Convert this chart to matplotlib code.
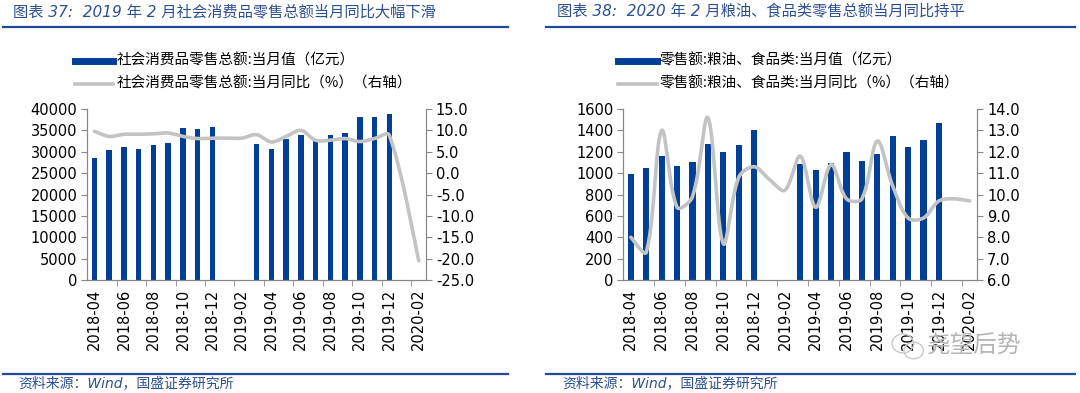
import numpy as np
import matplotlib
matplotlib.use('Agg')
import matplotlib.pyplot as plt
from matplotlib.patches import Ellipse

plt.rcParams['font.family'] = ['DejaVu Sans', 'Noto Sans CJK SC']

# months on the x axis, 2018-04 .. 2020-02
months = ['2018-04', '2018-05', '2018-06', '2018-07', '2018-08', '2018-09', '2018-10',
          '2018-11', '2018-12', '2019-01', '2019-02', '2019-03', '2019-04', '2019-05',
          '2019-06', '2019-07', '2019-08', '2019-09', '2019-10', '2019-11', '2019-12',
          '2020-01', '2020-02']
nan = np.nan

# chart 37: total retail sales of consumer goods
retail_value = [28542, 30359, 31032, 30734, 31542, 32005, 35534, 35260, 35893, nan, nan,
                31726, 30586, 32956, 33878, 33073, 33896, 34495, 38104, 38094, 38777, nan, nan]
retail_yoy = [9.8, 8.6, 9.1, 9.1, 9.2, 9.4, 8.6, 8.1, 8.2, 8.2, 8.2,
              9.0, 7.3, 8.6, 10.0, 7.7, 7.7, 8.1, 7.4, 8.1, 8.9, nan, -20.5]

# chart 38: grain, oil and food retail sales
food_value = [994, 1044, 1156, 1066, 1100, 1275, 1194, 1259, 1406, nan, nan,
              1084, 1025, 1097, 1200, 1112, 1178, 1347, 1247, 1309, 1469, nan, nan]
food_yoy = [8.0, 7.3, 13.0, 9.4, 9.9, 13.6, 7.7, 10.8, 11.3, 10.7, 10.2,
            11.8, 9.4, 11.4, 9.8, 9.8, 12.5, 10.4, 8.9, 8.9, 9.7, 9.8, 9.7]

titles = ['图表 37:  2019 年 2 月社会消费品零售总额当月同比大幅下滑',
          '图表 38:  2020 年 2 月粮油、食品类零售总额当月同比持平']
legend_bar = ['社会消费品零售总额:当月值（亿元）', '零售额:粮油、食品类:当月值（亿元）']
legend_line = ['社会消费品零售总额:当月同比（%）（右轴）', '零售额:粮油、食品类:当月同比（%）（右轴）']
source = '资料来源：Wind，国盛证券研究所'

BLUE = '#003F98'
GREY = '#C3C3C3'
TXT = '#2D4F92'


def smooth(x, y, kx, ky, n=30):
    # bezier through the points, control arms scaled by on-screen segment length
    x = np.asarray(x, float)
    y = np.asarray(y, float)
    N = len(x)
    d = np.hypot(np.diff(x) * kx, np.diff(y) * ky)
    xs, ys = [], []
    for i in range(N - 1):
        i0, i3 = max(i - 1, 0), min(i + 2, N - 1)
        da = d[i - 1] if i > 0 else d[i]
        db = d[i + 1] if i + 2 < N else d[i]
        f1 = d[i] / (da + d[i]) * 2 / 3
        f2 = d[i] / (d[i] + db) * 2 / 3
        c1 = (x[i] + (x[i + 1] - x[i0]) * f1 / 2, y[i] + (y[i + 1] - y[i0]) * f1 / 2)
        c2 = (x[i + 1] - (x[i3] - x[i]) * f2 / 2, y[i + 1] - (y[i3] - y[i]) * f2 / 2)
        t = np.linspace(0, 1, n)
        for k, (a, b) in enumerate([(x[i], x[i + 1]), (y[i], y[i + 1])]):
            pts = [a, c1[k], c2[k], b]
            v = ((1 - t) ** 3 * pts[0] + 3 * (1 - t) ** 2 * t * pts[1]
                 + 3 * (1 - t) * t ** 2 * pts[2] + t ** 3 * pts[3])
            (xs if k == 0 else ys).extend(v)
    return xs, ys


fig = plt.figure(figsize=(10.8, 3.93), dpi=100)

panels = [
    dict(x0=0.0806, w=0.314, vals=retail_value, yoy=retail_yoy, ylim=(0, 40000), yt=range(0, 40001, 5000),
         rlim=(-25, 15), rt=np.arange(-25, 15.1, 5), bw=0.38, tx=0.012, rule=(0.003, 0.470), lgx=0.069),
    dict(x0=0.577, w=0.328, vals=food_value, yoy=food_yoy, ylim=(0, 1600), yt=range(0, 1601, 200),
         rlim=(6, 14), rt=np.arange(6, 14.1, 1), bw=0.40, tx=0.516, rule=(0.506, 0.995), lgx=0.572),
]

x = np.arange(len(months))
for k, p in enumerate(panels):
    ax = fig.add_axes([p['x0'], 0.2875, p['w'], 0.435])
    ax2 = ax.twinx()
    ax.bar(x, p['vals'], width=p['bw'], color=BLUE, zorder=2)
    yoy = np.array(p['yoy'])
    ok = ~np.isnan(yoy)
    kx = p['w'] * 1080 / len(months)
    ky = 0.435 * 393 / (p['rlim'][1] - p['rlim'][0])
    sx, sy = smooth(x[ok], yoy[ok], kx, ky)
    ax2.plot(sx, sy, color=GREY, lw=2.6, solid_capstyle='round')

    ax.set_xlim(-0.5, len(months) - 0.5)
    ax.set_ylim(*p['ylim'])
    ax.set_yticks(list(p['yt']))
    ax2.set_ylim(*p['rlim'])
    ax2.set_yticks(p['rt'])
    ax2.set_yticklabels([f'{v:.1f}' for v in p['rt']])
    ax.set_xticks(x[::2])
    ax.set_xticklabels(months[::2], rotation=90)
    ax.set_xticks(np.arange(1.5, len(months), 2), minor=True)
    ax.tick_params(axis='x', which='major', length=0, pad=6, labelsize=10.5)
    ax.tick_params(axis='x', which='minor', length=4, color='#888888', direction='out')
    for a in (ax, ax2):
        a.tick_params(axis='y', length=4, color='#888888', labelsize=10.5, pad=3)
        for s in a.spines.values():
            s.set_color('#888888')
        a.spines['top'].set_visible(False)

    fig.text(p['tx'], 0.97, titles[k], color=TXT, fontsize=11, style='italic', va='center')
    fig.add_artist(plt.Line2D(p['rule'], [0.931, 0.931], color='#1F4B9A', lw=1.6))
    fig.add_artist(plt.Line2D(p['rule'], [0.048, 0.048], color='#1F4B9A', lw=1.6))
    fig.text(p['tx'] + 0.005, 0.025, source, color=TXT, fontsize=10, style='italic', va='center')

    fig.add_artist(plt.Line2D([p['lgx'], p['lgx'] + 0.036], [0.846, 0.846], color=BLUE, lw=5))
    fig.add_artist(plt.Line2D([p['lgx'], p['lgx'] + 0.036], [0.787, 0.787], color=GREY, lw=2.6))
    fig.text(p['lgx'] + 0.039, 0.846, legend_bar[k], fontsize=10.5, va='center',
             family=['Noto Sans CJK SC', 'DejaVu Sans'])
    fig.text(p['lgx'] + 0.039, 0.787, legend_line[k], fontsize=10.5, va='center',
             family=['Noto Sans CJK SC', 'DejaVu Sans'])

# watermark
fig.add_artist(Ellipse((0.836, 0.126), 0.020, 0.048, fill=False, ec='#C8C8C8', lw=1.0,
                       transform=fig.transFigure))
fig.add_artist(Ellipse((0.846, 0.108), 0.018, 0.042, fill=False, ec='#C8C8C8', lw=1.0,
                       transform=fig.transFigure))
fig.text(0.858, 0.12, '尧望后势', fontsize=17, color='#B5B5B5', va='center',
         family=['Noto Sans CJK SC'])

plt.savefig('out.png', dpi=100)
